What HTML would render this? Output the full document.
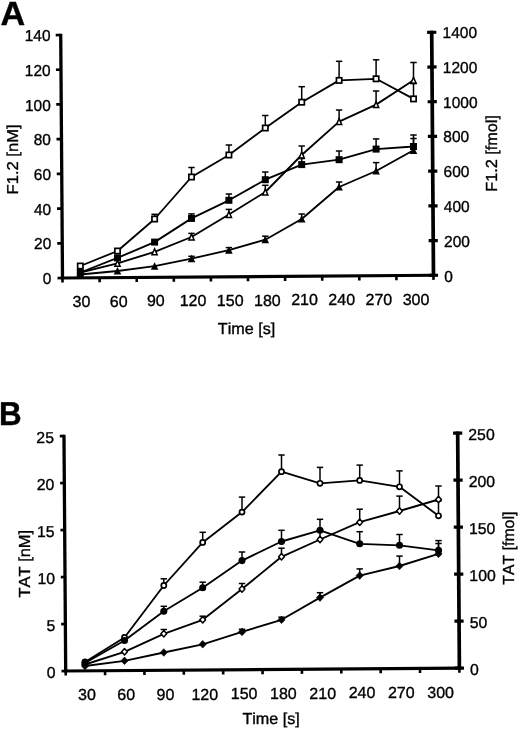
<!DOCTYPE html>
<html><head><meta charset="utf-8"><title>Figure</title>
<style>
html,body{margin:0;padding:0;background:#fff;}
body{width:520px;height:730px;overflow:hidden;}
svg{display:block;filter:grayscale(1) blur(0.35px);}
text{font-family:"Liberation Sans",sans-serif;fill:#000;text-rendering:geometricPrecision;font-kerning:none;}
</style></head><body>
<svg width="520" height="730" viewBox="0 0 520 730">
<rect x="0" y="0" width="520" height="730" fill="#fff"/>
<line x1="60.85" y1="278.01" x2="435.34" y2="275.27" stroke="#000" stroke-width="3.2" stroke-linecap="butt"/>
<line x1="62.50" y1="278.00" x2="60.71" y2="33.66" stroke="#000" stroke-width="3.3" stroke-linecap="butt"/>
<line x1="433.49" y1="275.28" x2="431.70" y2="30.69" stroke="#000" stroke-width="3.7" stroke-linecap="butt"/>
<line x1="62.50" y1="278.00" x2="62.53" y2="282.60" stroke="#000" stroke-width="2.6" stroke-linecap="butt"/>
<line x1="99.60" y1="277.73" x2="99.63" y2="282.33" stroke="#000" stroke-width="2.6" stroke-linecap="butt"/>
<line x1="136.70" y1="277.46" x2="136.73" y2="282.06" stroke="#000" stroke-width="2.6" stroke-linecap="butt"/>
<line x1="173.80" y1="277.18" x2="173.83" y2="281.78" stroke="#000" stroke-width="2.6" stroke-linecap="butt"/>
<line x1="210.90" y1="276.91" x2="210.93" y2="281.51" stroke="#000" stroke-width="2.6" stroke-linecap="butt"/>
<line x1="248.00" y1="276.64" x2="248.03" y2="281.24" stroke="#000" stroke-width="2.6" stroke-linecap="butt"/>
<line x1="285.09" y1="276.37" x2="285.13" y2="280.97" stroke="#000" stroke-width="2.6" stroke-linecap="butt"/>
<line x1="322.19" y1="276.10" x2="322.23" y2="280.70" stroke="#000" stroke-width="2.6" stroke-linecap="butt"/>
<line x1="359.29" y1="275.82" x2="359.33" y2="280.42" stroke="#000" stroke-width="2.6" stroke-linecap="butt"/>
<line x1="396.39" y1="275.55" x2="396.42" y2="280.15" stroke="#000" stroke-width="2.6" stroke-linecap="butt"/>
<line x1="433.49" y1="275.28" x2="433.52" y2="279.88" stroke="#000" stroke-width="2.6" stroke-linecap="butt"/>
<line x1="57.50" y1="278.04" x2="62.50" y2="278.00" stroke="#000" stroke-width="2.7" stroke-linecap="butt"/>
<line x1="428.89" y1="275.31" x2="438.09" y2="275.25" stroke="#000" stroke-width="3.2" stroke-linecap="butt"/>
<line x1="57.25" y1="243.32" x2="62.25" y2="243.29" stroke="#000" stroke-width="2.7" stroke-linecap="butt"/>
<line x1="428.64" y1="240.60" x2="437.84" y2="240.53" stroke="#000" stroke-width="3.2" stroke-linecap="butt"/>
<line x1="56.99" y1="208.61" x2="61.99" y2="208.57" stroke="#000" stroke-width="2.7" stroke-linecap="butt"/>
<line x1="428.38" y1="205.89" x2="437.58" y2="205.82" stroke="#000" stroke-width="3.2" stroke-linecap="butt"/>
<line x1="56.74" y1="173.90" x2="61.74" y2="173.86" stroke="#000" stroke-width="2.7" stroke-linecap="butt"/>
<line x1="428.13" y1="171.17" x2="437.33" y2="171.11" stroke="#000" stroke-width="3.2" stroke-linecap="butt"/>
<line x1="56.48" y1="139.18" x2="61.48" y2="139.15" stroke="#000" stroke-width="2.7" stroke-linecap="butt"/>
<line x1="427.87" y1="136.46" x2="437.07" y2="136.39" stroke="#000" stroke-width="3.2" stroke-linecap="butt"/>
<line x1="56.23" y1="104.47" x2="61.23" y2="104.43" stroke="#000" stroke-width="2.7" stroke-linecap="butt"/>
<line x1="427.62" y1="101.75" x2="436.82" y2="101.68" stroke="#000" stroke-width="3.2" stroke-linecap="butt"/>
<line x1="55.97" y1="69.76" x2="60.97" y2="69.72" stroke="#000" stroke-width="2.7" stroke-linecap="butt"/>
<line x1="427.36" y1="67.03" x2="436.56" y2="66.97" stroke="#000" stroke-width="3.2" stroke-linecap="butt"/>
<line x1="55.72" y1="35.04" x2="60.72" y2="35.01" stroke="#000" stroke-width="2.7" stroke-linecap="butt"/>
<line x1="427.11" y1="32.32" x2="436.31" y2="32.25" stroke="#000" stroke-width="3.2" stroke-linecap="butt"/>
<polyline points="80.30,274.50 117.50,271.00 154.60,266.20 191.50,258.60 228.90,250.10 265.30,239.70 301.70,219.00 339.10,187.00 376.10,171.00 413.50,150.30" fill="none" stroke="#000" stroke-width="1.85" stroke-linejoin="round"/>
<line x1="191.50" y1="258.60" x2="191.50" y2="256.30" stroke="#000" stroke-width="1.5" stroke-linecap="butt"/>
<line x1="188.30" y1="256.30" x2="194.70" y2="256.30" stroke="#000" stroke-width="1.5" stroke-linecap="butt"/>
<line x1="228.90" y1="250.10" x2="228.90" y2="247.60" stroke="#000" stroke-width="1.5" stroke-linecap="butt"/>
<line x1="225.70" y1="247.60" x2="232.10" y2="247.60" stroke="#000" stroke-width="1.5" stroke-linecap="butt"/>
<line x1="265.30" y1="239.70" x2="265.30" y2="236.20" stroke="#000" stroke-width="1.5" stroke-linecap="butt"/>
<line x1="262.10" y1="236.20" x2="268.50" y2="236.20" stroke="#000" stroke-width="1.5" stroke-linecap="butt"/>
<line x1="301.70" y1="219.00" x2="301.70" y2="214.00" stroke="#000" stroke-width="1.5" stroke-linecap="butt"/>
<line x1="298.50" y1="214.00" x2="304.90" y2="214.00" stroke="#000" stroke-width="1.5" stroke-linecap="butt"/>
<line x1="339.10" y1="187.00" x2="339.10" y2="182.00" stroke="#000" stroke-width="1.5" stroke-linecap="butt"/>
<line x1="335.90" y1="182.00" x2="342.30" y2="182.00" stroke="#000" stroke-width="1.5" stroke-linecap="butt"/>
<line x1="376.10" y1="171.00" x2="376.10" y2="162.60" stroke="#000" stroke-width="1.5" stroke-linecap="butt"/>
<line x1="372.90" y1="162.60" x2="379.30" y2="162.60" stroke="#000" stroke-width="1.5" stroke-linecap="butt"/>
<line x1="413.50" y1="150.30" x2="413.50" y2="138.50" stroke="#000" stroke-width="1.5" stroke-linecap="butt"/>
<line x1="410.30" y1="138.50" x2="416.70" y2="138.50" stroke="#000" stroke-width="1.5" stroke-linecap="butt"/>
<polygon points="80.30,270.60 84.10,278.10 76.50,278.10" fill="#000"/>
<polygon points="117.50,267.10 121.30,274.60 113.70,274.60" fill="#000"/>
<polygon points="154.60,262.30 158.40,269.80 150.80,269.80" fill="#000"/>
<polygon points="191.50,254.70 195.30,262.20 187.70,262.20" fill="#000"/>
<polygon points="228.90,246.20 232.70,253.70 225.10,253.70" fill="#000"/>
<polygon points="265.30,235.80 269.10,243.30 261.50,243.30" fill="#000"/>
<polygon points="301.70,215.10 305.50,222.60 297.90,222.60" fill="#000"/>
<polygon points="339.10,183.10 342.90,190.60 335.30,190.60" fill="#000"/>
<polygon points="376.10,167.10 379.90,174.60 372.30,174.60" fill="#000"/>
<polygon points="413.50,146.40 417.30,153.90 409.70,153.90" fill="#000"/>
<polyline points="80.30,272.50 117.50,263.40 154.60,251.80 191.50,237.00 228.90,214.50 265.30,192.00 301.70,155.00 339.10,121.60 376.10,104.60 413.50,80.30" fill="none" stroke="#000" stroke-width="1.85" stroke-linejoin="round"/>
<line x1="191.50" y1="237.00" x2="191.50" y2="233.40" stroke="#000" stroke-width="1.5" stroke-linecap="butt"/>
<line x1="188.30" y1="233.40" x2="194.70" y2="233.40" stroke="#000" stroke-width="1.5" stroke-linecap="butt"/>
<line x1="228.90" y1="214.50" x2="228.90" y2="209.40" stroke="#000" stroke-width="1.5" stroke-linecap="butt"/>
<line x1="225.70" y1="209.40" x2="232.10" y2="209.40" stroke="#000" stroke-width="1.5" stroke-linecap="butt"/>
<line x1="265.30" y1="192.00" x2="265.30" y2="185.30" stroke="#000" stroke-width="1.5" stroke-linecap="butt"/>
<line x1="262.10" y1="185.30" x2="268.50" y2="185.30" stroke="#000" stroke-width="1.5" stroke-linecap="butt"/>
<line x1="301.70" y1="155.00" x2="301.70" y2="146.00" stroke="#000" stroke-width="1.5" stroke-linecap="butt"/>
<line x1="298.50" y1="146.00" x2="304.90" y2="146.00" stroke="#000" stroke-width="1.5" stroke-linecap="butt"/>
<line x1="339.10" y1="121.60" x2="339.10" y2="110.00" stroke="#000" stroke-width="1.5" stroke-linecap="butt"/>
<line x1="335.90" y1="110.00" x2="342.30" y2="110.00" stroke="#000" stroke-width="1.5" stroke-linecap="butt"/>
<line x1="376.10" y1="104.60" x2="376.10" y2="91.00" stroke="#000" stroke-width="1.5" stroke-linecap="butt"/>
<line x1="372.90" y1="91.00" x2="379.30" y2="91.00" stroke="#000" stroke-width="1.5" stroke-linecap="butt"/>
<line x1="413.50" y1="80.30" x2="413.50" y2="62.50" stroke="#000" stroke-width="1.5" stroke-linecap="butt"/>
<line x1="410.30" y1="62.50" x2="416.70" y2="62.50" stroke="#000" stroke-width="1.5" stroke-linecap="butt"/>
<polygon points="80.30,269.50 82.90,275.40 77.70,275.40" fill="#fff" stroke="#000" stroke-width="1.5" stroke-linejoin="miter"/>
<polygon points="117.50,260.40 120.10,266.30 114.90,266.30" fill="#fff" stroke="#000" stroke-width="1.5" stroke-linejoin="miter"/>
<polygon points="154.60,248.80 157.20,254.70 152.00,254.70" fill="#fff" stroke="#000" stroke-width="1.5" stroke-linejoin="miter"/>
<polygon points="191.50,234.00 194.10,239.90 188.90,239.90" fill="#fff" stroke="#000" stroke-width="1.5" stroke-linejoin="miter"/>
<polygon points="228.90,211.50 231.50,217.40 226.30,217.40" fill="#fff" stroke="#000" stroke-width="1.5" stroke-linejoin="miter"/>
<polygon points="265.30,189.00 267.90,194.90 262.70,194.90" fill="#fff" stroke="#000" stroke-width="1.5" stroke-linejoin="miter"/>
<polygon points="301.70,152.00 304.30,157.90 299.10,157.90" fill="#fff" stroke="#000" stroke-width="1.5" stroke-linejoin="miter"/>
<polygon points="339.10,118.60 341.70,124.50 336.50,124.50" fill="#fff" stroke="#000" stroke-width="1.5" stroke-linejoin="miter"/>
<polygon points="376.10,101.60 378.70,107.50 373.50,107.50" fill="#fff" stroke="#000" stroke-width="1.5" stroke-linejoin="miter"/>
<polygon points="413.50,77.30 416.10,83.20 410.90,83.20" fill="#fff" stroke="#000" stroke-width="1.5" stroke-linejoin="miter"/>
<polyline points="80.30,272.50 117.50,257.90 154.60,242.10 191.50,218.40 228.90,200.30 265.30,179.70 301.70,164.60 339.10,159.70 376.10,149.10 413.50,146.50" fill="none" stroke="#000" stroke-width="1.85" stroke-linejoin="round"/>
<line x1="191.50" y1="218.40" x2="191.50" y2="213.90" stroke="#000" stroke-width="1.5" stroke-linecap="butt"/>
<line x1="188.30" y1="213.90" x2="194.70" y2="213.90" stroke="#000" stroke-width="1.5" stroke-linecap="butt"/>
<line x1="228.90" y1="200.30" x2="228.90" y2="194.00" stroke="#000" stroke-width="1.5" stroke-linecap="butt"/>
<line x1="225.70" y1="194.00" x2="232.10" y2="194.00" stroke="#000" stroke-width="1.5" stroke-linecap="butt"/>
<line x1="265.30" y1="179.70" x2="265.30" y2="172.00" stroke="#000" stroke-width="1.5" stroke-linecap="butt"/>
<line x1="262.10" y1="172.00" x2="268.50" y2="172.00" stroke="#000" stroke-width="1.5" stroke-linecap="butt"/>
<line x1="301.70" y1="164.60" x2="301.70" y2="158.50" stroke="#000" stroke-width="1.5" stroke-linecap="butt"/>
<line x1="298.50" y1="158.50" x2="304.90" y2="158.50" stroke="#000" stroke-width="1.5" stroke-linecap="butt"/>
<line x1="339.10" y1="159.70" x2="339.10" y2="151.00" stroke="#000" stroke-width="1.5" stroke-linecap="butt"/>
<line x1="335.90" y1="151.00" x2="342.30" y2="151.00" stroke="#000" stroke-width="1.5" stroke-linecap="butt"/>
<line x1="376.10" y1="149.10" x2="376.10" y2="138.90" stroke="#000" stroke-width="1.5" stroke-linecap="butt"/>
<line x1="372.90" y1="138.90" x2="379.30" y2="138.90" stroke="#000" stroke-width="1.5" stroke-linecap="butt"/>
<line x1="413.50" y1="146.50" x2="413.50" y2="135.00" stroke="#000" stroke-width="1.5" stroke-linecap="butt"/>
<line x1="410.30" y1="135.00" x2="416.70" y2="135.00" stroke="#000" stroke-width="1.5" stroke-linecap="butt"/>
<rect x="76.80" y="269.00" width="7.00" height="7.00" fill="#000"/>
<rect x="114.00" y="254.40" width="7.00" height="7.00" fill="#000"/>
<rect x="151.10" y="238.60" width="7.00" height="7.00" fill="#000"/>
<rect x="188.00" y="214.90" width="7.00" height="7.00" fill="#000"/>
<rect x="225.40" y="196.80" width="7.00" height="7.00" fill="#000"/>
<rect x="261.80" y="176.20" width="7.00" height="7.00" fill="#000"/>
<rect x="298.20" y="161.10" width="7.00" height="7.00" fill="#000"/>
<rect x="335.60" y="156.20" width="7.00" height="7.00" fill="#000"/>
<rect x="372.60" y="145.60" width="7.00" height="7.00" fill="#000"/>
<rect x="410.00" y="143.00" width="7.00" height="7.00" fill="#000"/>
<polyline points="80.30,266.00 117.50,251.00 154.60,219.00 191.50,177.00 228.90,155.00 265.30,128.00 301.70,102.20 339.10,80.40 376.10,78.80 413.50,98.90" fill="none" stroke="#000" stroke-width="1.85" stroke-linejoin="round"/>
<line x1="154.60" y1="219.00" x2="154.60" y2="214.30" stroke="#000" stroke-width="1.5" stroke-linecap="butt"/>
<line x1="151.40" y1="214.30" x2="157.80" y2="214.30" stroke="#000" stroke-width="1.5" stroke-linecap="butt"/>
<line x1="191.50" y1="177.00" x2="191.50" y2="167.50" stroke="#000" stroke-width="1.5" stroke-linecap="butt"/>
<line x1="188.30" y1="167.50" x2="194.70" y2="167.50" stroke="#000" stroke-width="1.5" stroke-linecap="butt"/>
<line x1="228.90" y1="155.00" x2="228.90" y2="145.00" stroke="#000" stroke-width="1.5" stroke-linecap="butt"/>
<line x1="225.70" y1="145.00" x2="232.10" y2="145.00" stroke="#000" stroke-width="1.5" stroke-linecap="butt"/>
<line x1="265.30" y1="128.00" x2="265.30" y2="115.50" stroke="#000" stroke-width="1.5" stroke-linecap="butt"/>
<line x1="262.10" y1="115.50" x2="268.50" y2="115.50" stroke="#000" stroke-width="1.5" stroke-linecap="butt"/>
<line x1="301.70" y1="102.20" x2="301.70" y2="86.70" stroke="#000" stroke-width="1.5" stroke-linecap="butt"/>
<line x1="298.50" y1="86.70" x2="304.90" y2="86.70" stroke="#000" stroke-width="1.5" stroke-linecap="butt"/>
<line x1="339.10" y1="80.40" x2="339.10" y2="61.30" stroke="#000" stroke-width="1.5" stroke-linecap="butt"/>
<line x1="335.90" y1="61.30" x2="342.30" y2="61.30" stroke="#000" stroke-width="1.5" stroke-linecap="butt"/>
<line x1="376.10" y1="78.80" x2="376.10" y2="59.80" stroke="#000" stroke-width="1.5" stroke-linecap="butt"/>
<line x1="372.90" y1="59.80" x2="379.30" y2="59.80" stroke="#000" stroke-width="1.5" stroke-linecap="butt"/>
<line x1="413.50" y1="98.90" x2="413.50" y2="83.60" stroke="#000" stroke-width="1.5" stroke-linecap="butt"/>
<line x1="410.30" y1="83.60" x2="416.70" y2="83.60" stroke="#000" stroke-width="1.5" stroke-linecap="butt"/>
<rect x="77.65" y="263.35" width="5.30" height="5.30" fill="#fff" stroke="#000" stroke-width="1.7"/>
<rect x="114.85" y="248.35" width="5.30" height="5.30" fill="#fff" stroke="#000" stroke-width="1.7"/>
<rect x="151.95" y="216.35" width="5.30" height="5.30" fill="#fff" stroke="#000" stroke-width="1.7"/>
<rect x="188.85" y="174.35" width="5.30" height="5.30" fill="#fff" stroke="#000" stroke-width="1.7"/>
<rect x="226.25" y="152.35" width="5.30" height="5.30" fill="#fff" stroke="#000" stroke-width="1.7"/>
<rect x="262.65" y="125.35" width="5.30" height="5.30" fill="#fff" stroke="#000" stroke-width="1.7"/>
<rect x="299.05" y="99.55" width="5.30" height="5.30" fill="#fff" stroke="#000" stroke-width="1.7"/>
<rect x="336.45" y="77.75" width="5.30" height="5.30" fill="#fff" stroke="#000" stroke-width="1.7"/>
<rect x="373.45" y="76.15" width="5.30" height="5.30" fill="#fff" stroke="#000" stroke-width="1.7"/>
<rect x="410.85" y="96.25" width="5.30" height="5.30" fill="#fff" stroke="#000" stroke-width="1.7"/>
<text x="0" y="0" font-size="15.9" text-anchor="end" font-weight="normal" transform="translate(51.35 283.78) scale(0.97 1)" stroke="#000" stroke-width="0.35">0</text>
<text x="0" y="0" font-size="15.9" text-anchor="end" font-weight="normal" transform="translate(51.22 249.17) scale(0.97 1)" stroke="#000" stroke-width="0.35">20</text>
<text x="0" y="0" font-size="15.9" text-anchor="end" font-weight="normal" transform="translate(51.10 214.56) scale(0.97 1)" stroke="#000" stroke-width="0.35">40</text>
<text x="0" y="0" font-size="15.9" text-anchor="end" font-weight="normal" transform="translate(50.97 179.94) scale(0.97 1)" stroke="#000" stroke-width="0.35">60</text>
<text x="0" y="0" font-size="15.9" text-anchor="end" font-weight="normal" transform="translate(50.85 145.33) scale(0.97 1)" stroke="#000" stroke-width="0.35">80</text>
<text x="0" y="0" font-size="15.9" text-anchor="end" font-weight="normal" transform="translate(50.72 110.72) scale(0.97 1)" stroke="#000" stroke-width="0.35">100</text>
<text x="0" y="0" font-size="15.9" text-anchor="end" font-weight="normal" transform="translate(50.59 76.10) scale(0.97 1)" stroke="#000" stroke-width="0.35">120</text>
<text x="0" y="0" font-size="15.9" text-anchor="end" font-weight="normal" transform="translate(50.47 41.49) scale(0.97 1)" stroke="#000" stroke-width="0.35">140</text>
<text x="0" y="0" font-size="15.8" text-anchor="start" font-weight="normal" transform="translate(444.34 281.80) scale(0.98 1)" stroke="#000" stroke-width="0.35">0</text>
<text x="0" y="0" font-size="15.8" text-anchor="start" font-weight="normal" transform="translate(444.08 246.97) scale(0.98 1)" stroke="#000" stroke-width="0.35">200</text>
<text x="0" y="0" font-size="15.8" text-anchor="start" font-weight="normal" transform="translate(443.83 212.15) scale(0.98 1)" stroke="#000" stroke-width="0.35">400</text>
<text x="0" y="0" font-size="15.8" text-anchor="start" font-weight="normal" transform="translate(443.57 177.32) scale(0.98 1)" stroke="#000" stroke-width="0.35">600</text>
<text x="0" y="0" font-size="15.8" text-anchor="start" font-weight="normal" transform="translate(443.32 142.49) scale(0.98 1)" stroke="#000" stroke-width="0.35">800</text>
<text x="0" y="0" font-size="15.8" text-anchor="start" font-weight="normal" transform="translate(443.06 107.66) scale(0.98 1)" stroke="#000" stroke-width="0.35">1000</text>
<text x="0" y="0" font-size="15.8" text-anchor="start" font-weight="normal" transform="translate(442.81 72.84) scale(0.98 1)" stroke="#000" stroke-width="0.35">1200</text>
<text x="0" y="0" font-size="15.8" text-anchor="start" font-weight="normal" transform="translate(442.55 38.01) scale(0.98 1)" stroke="#000" stroke-width="0.35">1400</text>
<text x="0" y="0" font-size="16" text-anchor="middle" font-weight="normal" transform="translate(81.51 306.96)" stroke="#000" stroke-width="0.35">30</text>
<text x="0" y="0" font-size="16" text-anchor="middle" font-weight="normal" transform="translate(118.68 306.69)" stroke="#000" stroke-width="0.35">60</text>
<text x="0" y="0" font-size="16" text-anchor="middle" font-weight="normal" transform="translate(155.85 306.42)" stroke="#000" stroke-width="0.35">90</text>
<text x="0" y="0" font-size="16" text-anchor="middle" font-weight="normal" transform="translate(193.02 306.14)" stroke="#000" stroke-width="0.35">120</text>
<text x="0" y="0" font-size="16" text-anchor="middle" font-weight="normal" transform="translate(230.19 305.87)" stroke="#000" stroke-width="0.35">150</text>
<text x="0" y="0" font-size="16" text-anchor="middle" font-weight="normal" transform="translate(267.36 305.60)" stroke="#000" stroke-width="0.35">180</text>
<text x="0" y="0" font-size="16" text-anchor="middle" font-weight="normal" transform="translate(304.53 305.33)" stroke="#000" stroke-width="0.35">210</text>
<text x="0" y="0" font-size="16" text-anchor="middle" font-weight="normal" transform="translate(341.70 305.05)" stroke="#000" stroke-width="0.35">240</text>
<text x="0" y="0" font-size="16" text-anchor="middle" font-weight="normal" transform="translate(378.86 304.78)" stroke="#000" stroke-width="0.35">270</text>
<text x="0" y="0" font-size="16" text-anchor="middle" font-weight="normal" transform="translate(416.03 304.51)" stroke="#000" stroke-width="0.35">300</text>
<text x="0" y="0" font-size="16" text-anchor="middle" font-weight="normal" transform="translate(246.50 333.50) scale(1.01 1)" stroke="#000" stroke-width="0.35">Time [s]</text>
<text x="0" y="0" font-size="15.8" text-anchor="middle" font-weight="normal" transform="translate(17.60 159.40) rotate(-90) scale(1.05 1)" stroke="#000" stroke-width="0.35">F1.2 [nM]</text>
<text x="0" y="0" font-size="16" text-anchor="middle" font-weight="normal" transform="translate(497.20 153.40) rotate(-90) scale(1.015 1)" stroke="#000" stroke-width="0.35">F1.2 [fmol]</text>
<text x="0" y="0" font-size="33.5" text-anchor="start" font-weight="bold" transform="translate(0.60 25.10) scale(1.02 1)" stroke="#000" stroke-width="0.4">A</text>
<line x1="64.05" y1="671.01" x2="461.24" y2="668.10" stroke="#000" stroke-width="3.2" stroke-linecap="butt"/>
<line x1="65.70" y1="671.00" x2="63.97" y2="434.66" stroke="#000" stroke-width="3.3" stroke-linecap="butt"/>
<line x1="459.39" y1="668.11" x2="457.66" y2="431.52" stroke="#000" stroke-width="3.7" stroke-linecap="butt"/>
<line x1="65.70" y1="671.00" x2="65.73" y2="675.60" stroke="#000" stroke-width="2.6" stroke-linecap="butt"/>
<line x1="105.07" y1="670.71" x2="105.10" y2="675.31" stroke="#000" stroke-width="2.6" stroke-linecap="butt"/>
<line x1="144.44" y1="670.42" x2="144.47" y2="675.02" stroke="#000" stroke-width="2.6" stroke-linecap="butt"/>
<line x1="183.81" y1="670.13" x2="183.84" y2="674.73" stroke="#000" stroke-width="2.6" stroke-linecap="butt"/>
<line x1="223.18" y1="669.85" x2="223.21" y2="674.45" stroke="#000" stroke-width="2.6" stroke-linecap="butt"/>
<line x1="262.54" y1="669.56" x2="262.58" y2="674.16" stroke="#000" stroke-width="2.6" stroke-linecap="butt"/>
<line x1="301.91" y1="669.27" x2="301.95" y2="673.87" stroke="#000" stroke-width="2.6" stroke-linecap="butt"/>
<line x1="341.28" y1="668.98" x2="341.32" y2="673.58" stroke="#000" stroke-width="2.6" stroke-linecap="butt"/>
<line x1="380.65" y1="668.69" x2="380.69" y2="673.29" stroke="#000" stroke-width="2.6" stroke-linecap="butt"/>
<line x1="420.02" y1="668.40" x2="420.05" y2="673.00" stroke="#000" stroke-width="2.6" stroke-linecap="butt"/>
<line x1="459.39" y1="668.11" x2="459.42" y2="672.71" stroke="#000" stroke-width="2.6" stroke-linecap="butt"/>
<line x1="61.50" y1="671.03" x2="65.70" y2="671.00" stroke="#000" stroke-width="2.7" stroke-linecap="butt"/>
<line x1="454.79" y1="668.15" x2="463.99" y2="668.08" stroke="#000" stroke-width="3.2" stroke-linecap="butt"/>
<line x1="61.16" y1="624.03" x2="65.36" y2="624.00" stroke="#000" stroke-width="2.7" stroke-linecap="butt"/>
<line x1="454.45" y1="621.15" x2="463.64" y2="621.08" stroke="#000" stroke-width="3.2" stroke-linecap="butt"/>
<line x1="60.81" y1="577.03" x2="65.01" y2="577.00" stroke="#000" stroke-width="2.7" stroke-linecap="butt"/>
<line x1="454.10" y1="574.15" x2="463.30" y2="574.08" stroke="#000" stroke-width="3.2" stroke-linecap="butt"/>
<line x1="60.47" y1="530.03" x2="64.67" y2="530.00" stroke="#000" stroke-width="2.7" stroke-linecap="butt"/>
<line x1="453.76" y1="527.15" x2="462.96" y2="527.08" stroke="#000" stroke-width="3.2" stroke-linecap="butt"/>
<line x1="60.12" y1="483.04" x2="64.32" y2="483.01" stroke="#000" stroke-width="2.7" stroke-linecap="butt"/>
<line x1="453.41" y1="480.15" x2="462.61" y2="480.09" stroke="#000" stroke-width="3.2" stroke-linecap="butt"/>
<line x1="59.78" y1="436.04" x2="63.98" y2="436.01" stroke="#000" stroke-width="2.7" stroke-linecap="butt"/>
<line x1="453.07" y1="433.15" x2="462.27" y2="433.09" stroke="#000" stroke-width="3.2" stroke-linecap="butt"/>
<polyline points="85.00,662.00 124.50,637.50 163.80,585.50 202.70,542.40 242.00,512.10 281.50,471.70 320.00,483.30 359.70,480.40 399.50,486.80 438.50,515.80" fill="none" stroke="#000" stroke-width="1.85" stroke-linejoin="round"/>
<line x1="163.80" y1="585.50" x2="163.80" y2="578.80" stroke="#000" stroke-width="1.5" stroke-linecap="butt"/>
<line x1="160.60" y1="578.80" x2="167.00" y2="578.80" stroke="#000" stroke-width="1.5" stroke-linecap="butt"/>
<line x1="202.70" y1="542.40" x2="202.70" y2="532.30" stroke="#000" stroke-width="1.5" stroke-linecap="butt"/>
<line x1="199.50" y1="532.30" x2="205.90" y2="532.30" stroke="#000" stroke-width="1.5" stroke-linecap="butt"/>
<line x1="242.00" y1="512.10" x2="242.00" y2="497.10" stroke="#000" stroke-width="1.5" stroke-linecap="butt"/>
<line x1="238.80" y1="497.10" x2="245.20" y2="497.10" stroke="#000" stroke-width="1.5" stroke-linecap="butt"/>
<line x1="281.50" y1="471.70" x2="281.50" y2="455.00" stroke="#000" stroke-width="1.5" stroke-linecap="butt"/>
<line x1="278.30" y1="455.00" x2="284.70" y2="455.00" stroke="#000" stroke-width="1.5" stroke-linecap="butt"/>
<line x1="320.00" y1="483.30" x2="320.00" y2="467.40" stroke="#000" stroke-width="1.5" stroke-linecap="butt"/>
<line x1="316.80" y1="467.40" x2="323.20" y2="467.40" stroke="#000" stroke-width="1.5" stroke-linecap="butt"/>
<line x1="359.70" y1="480.40" x2="359.70" y2="465.10" stroke="#000" stroke-width="1.5" stroke-linecap="butt"/>
<line x1="356.50" y1="465.10" x2="362.90" y2="465.10" stroke="#000" stroke-width="1.5" stroke-linecap="butt"/>
<line x1="399.50" y1="486.80" x2="399.50" y2="470.90" stroke="#000" stroke-width="1.5" stroke-linecap="butt"/>
<line x1="396.30" y1="470.90" x2="402.70" y2="470.90" stroke="#000" stroke-width="1.5" stroke-linecap="butt"/>
<line x1="438.50" y1="515.80" x2="438.50" y2="501.00" stroke="#000" stroke-width="1.5" stroke-linecap="butt"/>
<line x1="435.30" y1="501.00" x2="441.70" y2="501.00" stroke="#000" stroke-width="1.5" stroke-linecap="butt"/>
<circle cx="85.00" cy="662.00" r="2.55" fill="#fff" stroke="#000" stroke-width="1.7"/>
<circle cx="124.50" cy="637.50" r="2.55" fill="#fff" stroke="#000" stroke-width="1.7"/>
<circle cx="163.80" cy="585.50" r="2.55" fill="#fff" stroke="#000" stroke-width="1.7"/>
<circle cx="202.70" cy="542.40" r="2.55" fill="#fff" stroke="#000" stroke-width="1.7"/>
<circle cx="242.00" cy="512.10" r="2.55" fill="#fff" stroke="#000" stroke-width="1.7"/>
<circle cx="281.50" cy="471.70" r="2.55" fill="#fff" stroke="#000" stroke-width="1.7"/>
<circle cx="320.00" cy="483.30" r="2.55" fill="#fff" stroke="#000" stroke-width="1.7"/>
<circle cx="359.70" cy="480.40" r="2.55" fill="#fff" stroke="#000" stroke-width="1.7"/>
<circle cx="399.50" cy="486.80" r="2.55" fill="#fff" stroke="#000" stroke-width="1.7"/>
<circle cx="438.50" cy="515.80" r="2.55" fill="#fff" stroke="#000" stroke-width="1.7"/>
<polyline points="85.00,664.50 124.50,651.80 163.80,633.80 202.70,619.80 242.00,589.00 281.50,556.80 320.00,539.50 359.70,522.20 399.50,511.00 438.50,499.50" fill="none" stroke="#000" stroke-width="1.85" stroke-linejoin="round"/>
<line x1="163.80" y1="633.80" x2="163.80" y2="629.50" stroke="#000" stroke-width="1.5" stroke-linecap="butt"/>
<line x1="160.60" y1="629.50" x2="167.00" y2="629.50" stroke="#000" stroke-width="1.5" stroke-linecap="butt"/>
<line x1="202.70" y1="619.80" x2="202.70" y2="616.20" stroke="#000" stroke-width="1.5" stroke-linecap="butt"/>
<line x1="199.50" y1="616.20" x2="205.90" y2="616.20" stroke="#000" stroke-width="1.5" stroke-linecap="butt"/>
<line x1="242.00" y1="589.00" x2="242.00" y2="583.50" stroke="#000" stroke-width="1.5" stroke-linecap="butt"/>
<line x1="238.80" y1="583.50" x2="245.20" y2="583.50" stroke="#000" stroke-width="1.5" stroke-linecap="butt"/>
<line x1="281.50" y1="556.80" x2="281.50" y2="548.20" stroke="#000" stroke-width="1.5" stroke-linecap="butt"/>
<line x1="278.30" y1="548.20" x2="284.70" y2="548.20" stroke="#000" stroke-width="1.5" stroke-linecap="butt"/>
<line x1="320.00" y1="539.50" x2="320.00" y2="531.00" stroke="#000" stroke-width="1.5" stroke-linecap="butt"/>
<line x1="316.80" y1="531.00" x2="323.20" y2="531.00" stroke="#000" stroke-width="1.5" stroke-linecap="butt"/>
<line x1="359.70" y1="522.20" x2="359.70" y2="509.20" stroke="#000" stroke-width="1.5" stroke-linecap="butt"/>
<line x1="356.50" y1="509.20" x2="362.90" y2="509.20" stroke="#000" stroke-width="1.5" stroke-linecap="butt"/>
<line x1="399.50" y1="511.00" x2="399.50" y2="496.10" stroke="#000" stroke-width="1.5" stroke-linecap="butt"/>
<line x1="396.30" y1="496.10" x2="402.70" y2="496.10" stroke="#000" stroke-width="1.5" stroke-linecap="butt"/>
<line x1="438.50" y1="499.50" x2="438.50" y2="486.00" stroke="#000" stroke-width="1.5" stroke-linecap="butt"/>
<line x1="435.30" y1="486.00" x2="441.70" y2="486.00" stroke="#000" stroke-width="1.5" stroke-linecap="butt"/>
<polygon points="85.00,661.30 87.90,664.50 85.00,667.70 82.10,664.50" fill="#fff" stroke="#000" stroke-width="1.5" stroke-linejoin="round"/>
<polygon points="124.50,648.60 127.40,651.80 124.50,655.00 121.60,651.80" fill="#fff" stroke="#000" stroke-width="1.5" stroke-linejoin="round"/>
<polygon points="163.80,630.60 166.70,633.80 163.80,637.00 160.90,633.80" fill="#fff" stroke="#000" stroke-width="1.5" stroke-linejoin="round"/>
<polygon points="202.70,616.60 205.60,619.80 202.70,623.00 199.80,619.80" fill="#fff" stroke="#000" stroke-width="1.5" stroke-linejoin="round"/>
<polygon points="242.00,585.80 244.90,589.00 242.00,592.20 239.10,589.00" fill="#fff" stroke="#000" stroke-width="1.5" stroke-linejoin="round"/>
<polygon points="281.50,553.60 284.40,556.80 281.50,560.00 278.60,556.80" fill="#fff" stroke="#000" stroke-width="1.5" stroke-linejoin="round"/>
<polygon points="320.00,536.30 322.90,539.50 320.00,542.70 317.10,539.50" fill="#fff" stroke="#000" stroke-width="1.5" stroke-linejoin="round"/>
<polygon points="359.70,519.00 362.60,522.20 359.70,525.40 356.80,522.20" fill="#fff" stroke="#000" stroke-width="1.5" stroke-linejoin="round"/>
<polygon points="399.50,507.80 402.40,511.00 399.50,514.20 396.60,511.00" fill="#fff" stroke="#000" stroke-width="1.5" stroke-linejoin="round"/>
<polygon points="438.50,496.30 441.40,499.50 438.50,502.70 435.60,499.50" fill="#fff" stroke="#000" stroke-width="1.5" stroke-linejoin="round"/>
<polyline points="85.00,666.00 124.50,660.80 163.80,652.50 202.70,644.30 242.00,631.90 281.50,619.80 320.00,597.60 359.70,575.60 399.50,566.00 438.50,553.90" fill="none" stroke="#000" stroke-width="1.85" stroke-linejoin="round"/>
<line x1="242.00" y1="631.90" x2="242.00" y2="629.30" stroke="#000" stroke-width="1.5" stroke-linecap="butt"/>
<line x1="238.80" y1="629.30" x2="245.20" y2="629.30" stroke="#000" stroke-width="1.5" stroke-linecap="butt"/>
<line x1="281.50" y1="619.80" x2="281.50" y2="617.20" stroke="#000" stroke-width="1.5" stroke-linecap="butt"/>
<line x1="278.30" y1="617.20" x2="284.70" y2="617.20" stroke="#000" stroke-width="1.5" stroke-linecap="butt"/>
<line x1="320.00" y1="597.60" x2="320.00" y2="592.70" stroke="#000" stroke-width="1.5" stroke-linecap="butt"/>
<line x1="316.80" y1="592.70" x2="323.20" y2="592.70" stroke="#000" stroke-width="1.5" stroke-linecap="butt"/>
<line x1="359.70" y1="575.60" x2="359.70" y2="568.90" stroke="#000" stroke-width="1.5" stroke-linecap="butt"/>
<line x1="356.50" y1="568.90" x2="362.90" y2="568.90" stroke="#000" stroke-width="1.5" stroke-linecap="butt"/>
<line x1="399.50" y1="566.00" x2="399.50" y2="556.10" stroke="#000" stroke-width="1.5" stroke-linecap="butt"/>
<line x1="396.30" y1="556.10" x2="402.70" y2="556.10" stroke="#000" stroke-width="1.5" stroke-linecap="butt"/>
<line x1="438.50" y1="553.90" x2="438.50" y2="543.50" stroke="#000" stroke-width="1.5" stroke-linecap="butt"/>
<line x1="435.30" y1="543.50" x2="441.70" y2="543.50" stroke="#000" stroke-width="1.5" stroke-linecap="butt"/>
<polygon points="85.00,662.20 88.60,666.00 85.00,669.80 81.40,666.00" fill="#000" stroke="#000" stroke-width="0.6" stroke-linejoin="round"/>
<polygon points="124.50,657.00 128.10,660.80 124.50,664.60 120.90,660.80" fill="#000" stroke="#000" stroke-width="0.6" stroke-linejoin="round"/>
<polygon points="163.80,648.70 167.40,652.50 163.80,656.30 160.20,652.50" fill="#000" stroke="#000" stroke-width="0.6" stroke-linejoin="round"/>
<polygon points="202.70,640.50 206.30,644.30 202.70,648.10 199.10,644.30" fill="#000" stroke="#000" stroke-width="0.6" stroke-linejoin="round"/>
<polygon points="242.00,628.10 245.60,631.90 242.00,635.70 238.40,631.90" fill="#000" stroke="#000" stroke-width="0.6" stroke-linejoin="round"/>
<polygon points="281.50,616.00 285.10,619.80 281.50,623.60 277.90,619.80" fill="#000" stroke="#000" stroke-width="0.6" stroke-linejoin="round"/>
<polygon points="320.00,593.80 323.60,597.60 320.00,601.40 316.40,597.60" fill="#000" stroke="#000" stroke-width="0.6" stroke-linejoin="round"/>
<polygon points="359.70,571.80 363.30,575.60 359.70,579.40 356.10,575.60" fill="#000" stroke="#000" stroke-width="0.6" stroke-linejoin="round"/>
<polygon points="399.50,562.20 403.10,566.00 399.50,569.80 395.90,566.00" fill="#000" stroke="#000" stroke-width="0.6" stroke-linejoin="round"/>
<polygon points="438.50,550.10 442.10,553.90 438.50,557.70 434.90,553.90" fill="#000" stroke="#000" stroke-width="0.6" stroke-linejoin="round"/>
<polyline points="85.00,663.00 124.50,640.50 163.80,611.30 202.70,587.80 242.00,560.60 281.50,541.50 320.00,530.30 359.70,543.80 399.50,545.30 438.50,550.40" fill="none" stroke="#000" stroke-width="1.85" stroke-linejoin="round"/>
<line x1="163.80" y1="611.30" x2="163.80" y2="606.30" stroke="#000" stroke-width="1.5" stroke-linecap="butt"/>
<line x1="160.60" y1="606.30" x2="167.00" y2="606.30" stroke="#000" stroke-width="1.5" stroke-linecap="butt"/>
<line x1="202.70" y1="587.80" x2="202.70" y2="582.20" stroke="#000" stroke-width="1.5" stroke-linecap="butt"/>
<line x1="199.50" y1="582.20" x2="205.90" y2="582.20" stroke="#000" stroke-width="1.5" stroke-linecap="butt"/>
<line x1="242.00" y1="560.60" x2="242.00" y2="552.00" stroke="#000" stroke-width="1.5" stroke-linecap="butt"/>
<line x1="238.80" y1="552.00" x2="245.20" y2="552.00" stroke="#000" stroke-width="1.5" stroke-linecap="butt"/>
<line x1="281.50" y1="541.50" x2="281.50" y2="530.30" stroke="#000" stroke-width="1.5" stroke-linecap="butt"/>
<line x1="278.30" y1="530.30" x2="284.70" y2="530.30" stroke="#000" stroke-width="1.5" stroke-linecap="butt"/>
<line x1="320.00" y1="530.30" x2="320.00" y2="519.30" stroke="#000" stroke-width="1.5" stroke-linecap="butt"/>
<line x1="316.80" y1="519.30" x2="323.20" y2="519.30" stroke="#000" stroke-width="1.5" stroke-linecap="butt"/>
<line x1="359.70" y1="543.80" x2="359.70" y2="531.70" stroke="#000" stroke-width="1.5" stroke-linecap="butt"/>
<line x1="356.50" y1="531.70" x2="362.90" y2="531.70" stroke="#000" stroke-width="1.5" stroke-linecap="butt"/>
<line x1="399.50" y1="545.30" x2="399.50" y2="534.50" stroke="#000" stroke-width="1.5" stroke-linecap="butt"/>
<line x1="396.30" y1="534.50" x2="402.70" y2="534.50" stroke="#000" stroke-width="1.5" stroke-linecap="butt"/>
<line x1="438.50" y1="550.40" x2="438.50" y2="540.60" stroke="#000" stroke-width="1.5" stroke-linecap="butt"/>
<line x1="435.30" y1="540.60" x2="441.70" y2="540.60" stroke="#000" stroke-width="1.5" stroke-linecap="butt"/>
<circle cx="85.00" cy="663.00" r="3.55" fill="#000"/>
<circle cx="124.50" cy="640.50" r="3.55" fill="#000"/>
<circle cx="163.80" cy="611.30" r="3.55" fill="#000"/>
<circle cx="202.70" cy="587.80" r="3.55" fill="#000"/>
<circle cx="242.00" cy="560.60" r="3.55" fill="#000"/>
<circle cx="281.50" cy="541.50" r="3.55" fill="#000"/>
<circle cx="320.00" cy="530.30" r="3.55" fill="#000"/>
<circle cx="359.70" cy="543.80" r="3.55" fill="#000"/>
<circle cx="399.50" cy="545.30" r="3.55" fill="#000"/>
<circle cx="438.50" cy="550.40" r="3.55" fill="#000"/>
<text x="0" y="0" font-size="15.8" text-anchor="end" font-weight="normal" transform="translate(55.65 678.18)" stroke="#000" stroke-width="0.35">0</text>
<text x="0" y="0" font-size="15.8" text-anchor="end" font-weight="normal" transform="translate(55.31 631.18)" stroke="#000" stroke-width="0.35">5</text>
<text x="0" y="0" font-size="15.8" text-anchor="end" font-weight="normal" transform="translate(54.96 584.18)" stroke="#000" stroke-width="0.35">10</text>
<text x="0" y="0" font-size="15.8" text-anchor="end" font-weight="normal" transform="translate(54.62 537.18)" stroke="#000" stroke-width="0.35">15</text>
<text x="0" y="0" font-size="15.8" text-anchor="end" font-weight="normal" transform="translate(54.27 490.18)" stroke="#000" stroke-width="0.35">20</text>
<text x="0" y="0" font-size="15.8" text-anchor="end" font-weight="normal" transform="translate(53.93 443.18)" stroke="#000" stroke-width="0.35">25</text>
<text x="0" y="0" font-size="15.8" text-anchor="start" font-weight="normal" transform="translate(470.04 675.44)" stroke="#000" stroke-width="0.35">0</text>
<text x="0" y="0" font-size="15.8" text-anchor="start" font-weight="normal" transform="translate(469.70 628.44)" stroke="#000" stroke-width="0.35">50</text>
<text x="0" y="0" font-size="15.8" text-anchor="start" font-weight="normal" transform="translate(469.35 581.44)" stroke="#000" stroke-width="0.35">100</text>
<text x="0" y="0" font-size="15.8" text-anchor="start" font-weight="normal" transform="translate(469.01 534.44)" stroke="#000" stroke-width="0.35">150</text>
<text x="0" y="0" font-size="15.8" text-anchor="start" font-weight="normal" transform="translate(468.67 487.44)" stroke="#000" stroke-width="0.35">200</text>
<text x="0" y="0" font-size="15.8" text-anchor="start" font-weight="normal" transform="translate(468.32 440.44)" stroke="#000" stroke-width="0.35">250</text>
<text x="0" y="0" font-size="16" text-anchor="middle" font-weight="normal" transform="translate(86.92 700.45)" stroke="#000" stroke-width="0.35">30</text>
<text x="0" y="0" font-size="16" text-anchor="middle" font-weight="normal" transform="translate(126.22 700.16)" stroke="#000" stroke-width="0.35">60</text>
<text x="0" y="0" font-size="16" text-anchor="middle" font-weight="normal" transform="translate(165.51 699.87)" stroke="#000" stroke-width="0.35">90</text>
<text x="0" y="0" font-size="16" text-anchor="middle" font-weight="normal" transform="translate(204.81 699.58)" stroke="#000" stroke-width="0.35">120</text>
<text x="0" y="0" font-size="16" text-anchor="middle" font-weight="normal" transform="translate(244.11 699.29)" stroke="#000" stroke-width="0.35">150</text>
<text x="0" y="0" font-size="16" text-anchor="middle" font-weight="normal" transform="translate(283.41 699.00)" stroke="#000" stroke-width="0.35">180</text>
<text x="0" y="0" font-size="16" text-anchor="middle" font-weight="normal" transform="translate(322.71 698.72)" stroke="#000" stroke-width="0.35">210</text>
<text x="0" y="0" font-size="16" text-anchor="middle" font-weight="normal" transform="translate(362.01 698.43)" stroke="#000" stroke-width="0.35">240</text>
<text x="0" y="0" font-size="16" text-anchor="middle" font-weight="normal" transform="translate(401.31 698.14)" stroke="#000" stroke-width="0.35">270</text>
<text x="0" y="0" font-size="16" text-anchor="middle" font-weight="normal" transform="translate(440.61 697.85)" stroke="#000" stroke-width="0.35">300</text>
<text x="0" y="0" font-size="16" text-anchor="middle" font-weight="normal" transform="translate(271.10 724.40) scale(1.01 1)" stroke="#000" stroke-width="0.35">Time [s]</text>
<text x="0" y="0" font-size="16" text-anchor="middle" font-weight="normal" transform="translate(30.30 563.70) rotate(-90) scale(1.03 1)" stroke="#000" stroke-width="0.35">TAT [nM]</text>
<text x="0" y="0" font-size="16" text-anchor="middle" font-weight="normal" transform="translate(514.40 548.20) rotate(-90) scale(0.99 1)" stroke="#000" stroke-width="0.35">TAT [fmol]</text>
<text x="0" y="0" font-size="33" text-anchor="start" font-weight="bold" transform="translate(-0.90 425.20) scale(0.95 1)" stroke="#000" stroke-width="0.4">B</text>
</svg>
</body></html>
